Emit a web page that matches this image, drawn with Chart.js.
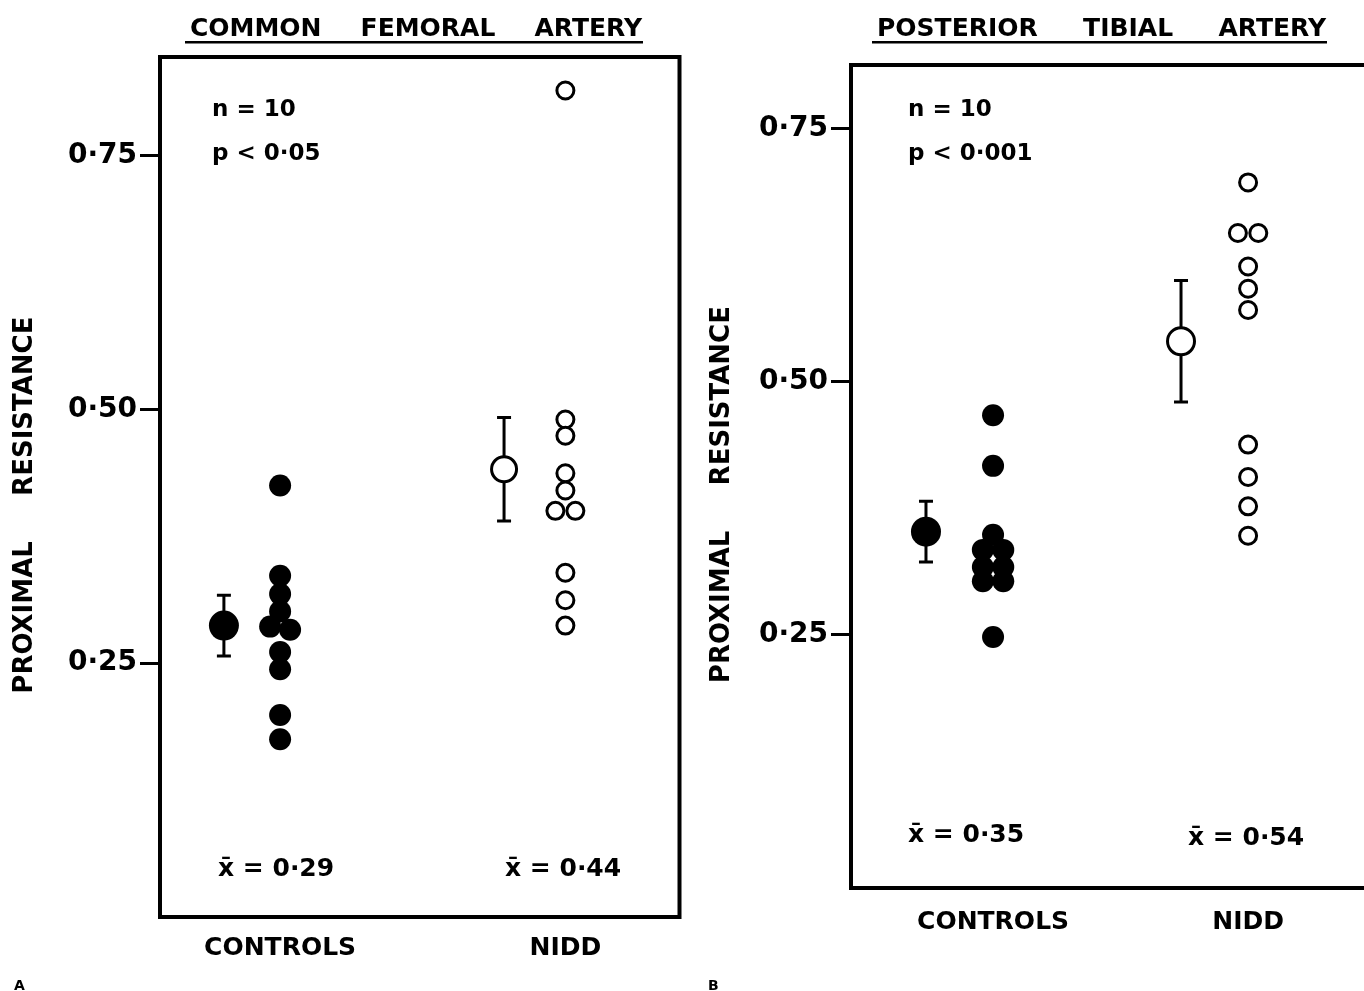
<!DOCTYPE html>
<html>
<head>
<meta charset="utf-8">
<script src="https://cdn.jsdelivr.net/npm/chart.js@4/dist/chart.umd.min.js"></script>
<style>
  html, body { margin: 0; background: #fff; overflow: hidden; }
  #wrap { position: relative; width: 1364px; height: 991px; overflow: hidden; }
  .panel { position: absolute; top: 0; height: 991px; }
  #panelA { left: 0; width: 695px; }
  #panelB { left: 690px; width: 700px; }
</style>
</head>
<body>
<div id="wrap">
  <div class="panel" id="panelA"><canvas id="chartA"></canvas></div>
  <div class="panel" id="panelB"><canvas id="chartB"></canvas></div>
</div>
<script>
// Shared
const groups = ['CONTROLS', 'NIDD'];
const yTicks = [0.25, 0.50, 0.75];
const yTitle = 'PROXIMAL     RESISTANCE    ';

// A - common femoral artery
const femoralTitle = ['COMMON', 'FEMORAL', 'ARTERY'];
const femoralControls = [0.425, 0.336, 0.318, 0.301, 0.286, 0.283, 0.261, 0.244, 0.199, 0.175];
const femoralNidd = [0.814, 0.490, 0.474, 0.437, 0.420, 0.400, 0.400, 0.339, 0.312, 0.287];
const femoralMeans = [0.287, 0.441];
const femoralErr = [0.030, 0.051];
const femoralMeanText = ['0·29', '0·44'];
const femoralStats = ['n = 10', 'p < 0·05'];

// B - posterior tibial artery
const tibialTitle = ['POSTERIOR', 'TIBIAL', 'ARTERY'];
const tibialControls = [0.467, 0.417, 0.349, 0.334, 0.334, 0.317, 0.317, 0.303, 0.303, 0.248];
const tibialNidd = [0.697, 0.647, 0.647, 0.614, 0.592, 0.571, 0.438, 0.406, 0.377, 0.348];
const tibialMeans = [0.352, 0.540];
const tibialErr = [0.030, 0.060];
const tibialMeanText = ['0·35', '0·54'];
const tibialStats = ['n = 10', 'p < 0·001'];

const FONT = '"DejaVu Sans", sans-serif';
Chart.defaults.font.family = FONT;
Chart.defaults.color = '#000';

// put near-equal neighbours side by side
function spread(values, x, d) {
  const pts = values.map(v => ({ x: x, y: v }));
  for (let i = 0; i < pts.length - 1; i++) {
    if (pts[i].x === x && Math.abs(values[i] - values[i + 1]) < 0.006) {
      pts[i].x = x - d;
      pts[i + 1].x = x + d;
    }
  }
  return pts;
}

function drawWords(ctx, words, left, right, y) {
  const widths = words.map(w => ctx.measureText(w).width);
  const gap = (right - left - widths.reduce((a, b) => a + b, 0)) / (words.length - 1);
  let x = left;
  words.forEach((w, i) => { ctx.fillText(w, x, y); x += widths[i] + gap; });
}

const framePlugin = {
  id: 'frame',
  beforeDatasetsDraw(chart, args, o) {
    const { ctx, chartArea: a, scales: { x, y } } = chart;
    ctx.save();
    ctx.strokeStyle = '#000';
    ctx.lineWidth = 4;
    ctx.strokeRect(a.left, a.top, a.right - a.left, a.bottom - a.top);
    // error bars round the means
    ctx.lineWidth = 3;
    o.means.forEach((m, i) => {
      const px = x.getPixelForValue(i + 1 + o.meanShift[i]);
      const t = y.getPixelForValue(m + o.err[i]);
      const b = y.getPixelForValue(m - o.err[i]);
      ctx.beginPath();
      ctx.moveTo(px, t); ctx.lineTo(px, b);
      ctx.moveTo(px - 7, t); ctx.lineTo(px + 7, t);
      ctx.moveTo(px - 7, b); ctx.lineTo(px + 7, b);
      ctx.stroke();
    });
    ctx.restore();
  },
  afterDraw(chart, args, o) {
    const { ctx, chartArea: a } = chart;
    ctx.save();
    ctx.fillStyle = '#000';
    ctx.textBaseline = 'alphabetic';
    // underlined heading
    ctx.font = 'bold 25px ' + FONT;
    drawWords(ctx, o.title, o.titleLeft, o.titleRight, 36);
    ctx.fillRect(o.titleLeft - 5, 41, o.titleRight - o.titleLeft + 6, 2.5);
    // n and p
    ctx.font = 'bold 23px ' + FONT;
    ctx.fillText(o.stats[0], a.left + o.statsX, 116);
    ctx.fillText(o.stats[1], a.left + o.statsX, 160);
    // means
    ctx.font = 'bold 25px ' + FONT;
    o.meanText.forEach((t, i) => {
      ctx.fillText('x\u0304 = ' + t, a.left + o.meanX[i], o.meanY[i]);
    });
    // panel letter
    ctx.font = 'bold 14px ' + FONT;
    ctx.fillText(o.letter, o.letterX, 990);
    ctx.restore();
  }
};

function makeChart(id, c) {
  new Chart(document.getElementById(id), {
    type: 'scatter',
    data: {
      datasets: [
        { data: spread(c.controls, 1, c.jitter), pointRadius: 11, backgroundColor: '#000', borderColor: '#000', borderWidth: 0 },
        { data: spread(c.nidd, 2, c.jitter), pointRadius: 8.5, backgroundColor: '#fff', borderColor: '#000', borderWidth: 3 },
        { data: [{ x: 1 + c.meanShift[0], y: c.means[0] }], pointRadius: 15, backgroundColor: '#000', borderColor: '#000', borderWidth: 0 },
        { data: [{ x: 2 + c.meanShift[1], y: c.means[1] }], pointRadius: c.openMeanR, backgroundColor: '#fff', borderColor: '#000', borderWidth: 3 }
      ]
    },
    options: {
      responsive: true,
      maintainAspectRatio: false,
      animation: false,
      devicePixelRatio: 1,
      events: [],
      layout: { padding: { top: c.top, right: c.right, left: 0, bottom: 0 } },
      scales: {
        x: {
          type: 'linear', min: c.xMin, max: c.xMax,
          afterBuildTicks: s => { s.ticks = [{ value: 1 }, { value: 2 }]; },
          afterFit: s => { s.height = c.xHeight; },
          ticks: { callback: (v, i) => groups[i], font: { size: 25, weight: 'bold' }, padding: c.xPad, maxRotation: 0 },
          grid: { display: false, drawTicks: false },
          border: { display: false }
        },
        y: {
          min: 0, max: c.yMax,
          afterBuildTicks: s => { s.ticks = yTicks.map(v => ({ value: v })); },
          afterFit: s => { s.width = c.yWidth; },
          ticks: { callback: v => v.toFixed(2).replace('.', '·'), font: { size: 28, weight: 'bold' }, padding: 3 },
          grid: { drawOnChartArea: false, tickLength: 20, tickWidth: 3, tickColor: '#000' },
          border: { display: false },
          title: { display: true, text: yTitle, font: { size: 26, weight: 'bold' }, padding: { top: c.yTitlePad } }
        }
      },
      plugins: {
        legend: { display: false },
        tooltip: { enabled: false },
        frame: {
          means: c.means, err: c.err, meanShift: c.meanShift,
          title: c.title, titleLeft: c.titleLeft, titleRight: c.titleRight,
          stats: c.stats, statsX: c.statsX,
          meanText: c.meanText, meanX: c.meanX, meanY: c.meanY,
          letter: c.letter, letterX: c.letterX
        }
      }
    },
    plugins: [framePlugin]
  });
}

makeChart('chartA', {
  controls: femoralControls, nidd: femoralNidd, means: femoralMeans, err: femoralErr,
  meanText: femoralMeanText, stats: femoralStats, title: femoralTitle,
  jitter: 0.035, meanShift: [-0.197, -0.215], openMeanR: 12.5,
  xMin: 0.579, xMax: 2.40, yMax: 0.847,
  top: 57, right: 6, xHeight: 74, xPad: 16, yWidth: 160, yTitlePad: 10,
  titleLeft: 190, titleRight: 642, statsX: 52,
  meanX: [58, 345], meanY: [876, 876], letter: 'A', letterX: 14
});

makeChart('chartB', {
  controls: tibialControls, nidd: tibialNidd, means: tibialMeans, err: tibialErr,
  meanText: tibialMeanText, stats: tibialStats, title: tibialTitle,
  jitter: 0.04, meanShift: [-0.263, -0.263], openMeanR: 13.5,
  xMin: 0.443, xMax: 2.478, yMax: 0.813,
  top: 65, right: 20, xHeight: 103, xPad: 19, yWidth: 161, yTitlePad: 17,
  titleLeft: 187, titleRight: 636, statsX: 57,
  meanX: [57, 337], meanY: [842, 845], letter: 'B', letterX: 18
});
</script>
</body>
</html>
